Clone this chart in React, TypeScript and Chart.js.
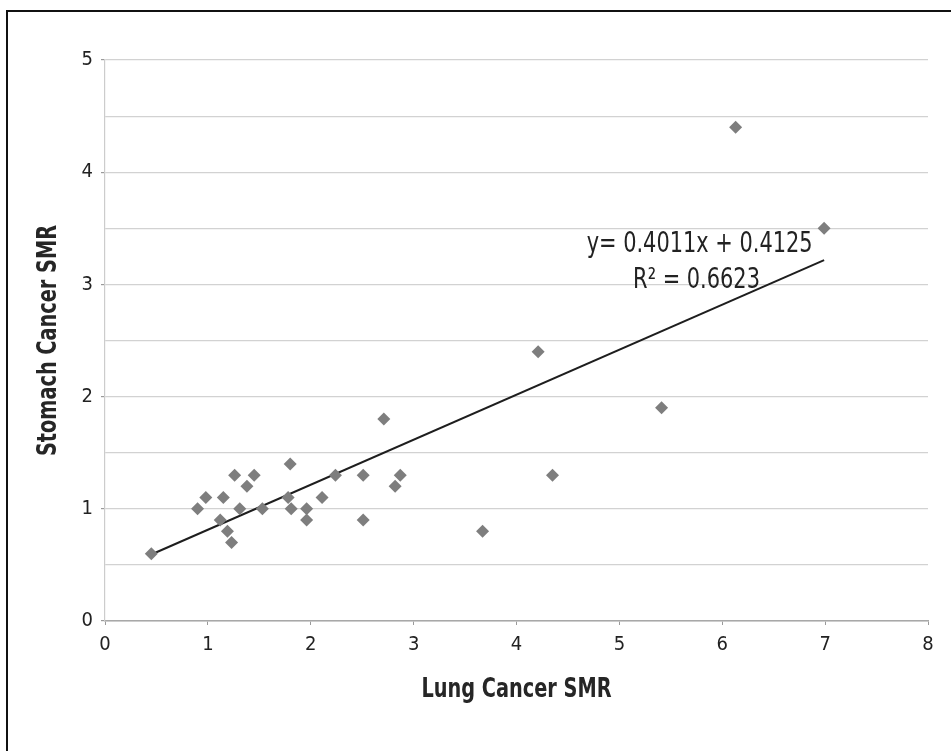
import React, { useEffect, useRef } from "react";
import { Chart, registerables } from "chart.js";

Chart.register(...registerables);

// Lung cancer SMR (x) vs stomach cancer SMR (y)
const lungSMR = [
  0.45, 0.9, 0.98, 1.12, 1.15, 1.19, 1.23, 1.26, 1.31, 1.38, 1.45, 1.53, 1.78, 1.8, 1.81,
  1.96, 1.96, 2.11, 2.24, 2.51, 2.51, 2.71, 2.82, 2.87, 3.67, 4.21, 4.35, 5.41, 6.13, 6.99,
];
const stomachSMR = [
  0.6, 1.0, 1.1, 0.9, 1.1, 0.8, 0.7, 1.3, 1.0, 1.2, 1.3, 1.0, 1.1, 1.4, 1.0,
  1.0, 0.9, 1.1, 1.3, 1.3, 0.9, 1.8, 1.2, 1.3, 0.8, 2.4, 1.3, 1.9, 4.4, 3.5,
];

const slope = 0.4011;
const intercept = 0.4125;
const equationLines = ["y= 0.4011x + 0.4125", "R\u00B2 = 0.6623"];
// label anchors in data units [x, y]
const equationAnchors: [number, number][] = [
  [5.78, 3.29],
  [5.75, 2.97],
];

const xTitle = "Lung Cancer SMR";
const yTitle = "Stomach Cancer SMR";

const FONT = "'Liberation Sans Narrow', 'DejaVu Sans Condensed', 'Arial Narrow', sans-serif";

export default function App() {
  const ref = useRef<HTMLCanvasElement | null>(null);

  useEffect(() => {
    if (!ref.current) return;
    const xMin = Math.min(...lungSMR);
    const xMax = Math.max(...lungSMR);
    const trend = [
      { x: xMin, y: slope * xMin + intercept },
      { x: xMax, y: slope * xMax + intercept },
    ];

    const textPlugin = {
      id: "condensedText",
      afterDatasetsDraw(chart: any) {
        const { ctx, scales, chartArea } = chart;
        // regression equation
        ctx.save();
        ctx.fillStyle = "#222";
        ctx.font = `28px ${FONT}`;
        ctx.textAlign = "center";
        ctx.textBaseline = "alphabetic";
        equationLines.forEach((t, i) => {
          const [ax, ay] = equationAnchors[i];
          const px = scales.x.getPixelForValue(ax);
          const py = scales.y.getPixelForValue(ay);
          ctx.save();
          ctx.translate(px, py);
          ctx.scale(0.83, 1);
          ctx.fillText(t, 0, 0);
          ctx.restore();
        });
        ctx.restore();

        // axis titles
        ctx.save();
        ctx.fillStyle = "#262626";
        ctx.font = `bold 27px ${FONT}`;
        ctx.textAlign = "center";
        ctx.textBaseline = "middle";
        ctx.save();
        ctx.translate((chartArea.left + chartArea.right) / 2, 690);
        ctx.scale(0.795, 1);
        ctx.fillText(xTitle, 0, 0);
        ctx.restore();
        ctx.save();
        ctx.translate(49, (chartArea.top + chartArea.bottom) / 2);
        ctx.rotate(-Math.PI / 2);
        ctx.scale(0.795, 1);
        ctx.fillText(yTitle, 0, 0);
        ctx.restore();
        ctx.restore();
      },
    };

    const chart = new Chart(ref.current, {
      type: "scatter",
      data: {
        datasets: [
          {
            type: "scatter",
            data: lungSMR.map((x, i) => ({ x, y: stomachSMR[i] })),
            pointStyle: "rectRot",
            pointRadius: 6.5,
            pointBackgroundColor: "#7e7e7e",
            pointBorderColor: "#7e7e7e",
            borderWidth: 0,
          },
          {
            type: "line",
            data: trend,
            borderColor: "#1e1e1e",
            borderWidth: 2,
            pointRadius: 0,
            fill: false,
          } as any,
        ],
      },
      options: {
        responsive: false,
        animation: false,
        devicePixelRatio: 1,
        layout: { padding: { top: 60, right: 23, left: 0, bottom: 0 } },
        plugins: { legend: { display: false }, tooltip: { enabled: false } },
        scales: {
          x: {
            type: "linear",
            min: 0,
            max: 8,
            ticks: {
              stepSize: 1,
              color: "#222",
              font: { family: FONT, size: 20 },
              padding: 8,
              maxRotation: 0,
            },
            grid: {
              drawOnChartArea: false,
              drawTicks: true,
              tickLength: 4,
              tickColor: "#9a9a9a",
            },
            border: { color: "#a8a8a8", width: 1.5 },
            afterFit: (scale: any) => {
              scale.height = 130;
            },
          },
          y: {
            type: "linear",
            min: 0,
            max: 5,
            ticks: {
              stepSize: 0.5,
              color: "#222",
              font: { family: FONT, size: 20 },
              padding: 8,
              callback: (v: any) => (Number(v) % 1 === 0 ? String(v) : ""),
            },
            grid: {
              color: "#d2d2d2",
              lineWidth: 1.2,
              tickLength: 4,
              tickColor: (c: any) => (c.tick && c.tick.value % 1 === 0 ? "#9a9a9a" : "rgba(0,0,0,0)"),
            },
            border: { color: "#cccccc", width: 1.2 },
            afterFit: (scale: any) => {
              scale.width = 105;
            },
          },
        },
      },
      plugins: [textPlugin],
    });
    return () => chart.destroy();
  }, []);

  return (
    <div style={{ position: "absolute", left: 0, top: 0, width: 951, height: 751, overflow: "hidden", background: "#fff" }}>
      <div
        style={{
          position: "absolute",
          left: 6,
          top: 10,
          width: 980,
          height: 780,
          borderLeft: "2px solid #111",
          borderTop: "2px solid #111",
        }}
      />
      <canvas ref={ref} width={951} height={751} style={{ position: "absolute", left: 0, top: 0, width: 951, height: 751 }} />
    </div>
  );
}
